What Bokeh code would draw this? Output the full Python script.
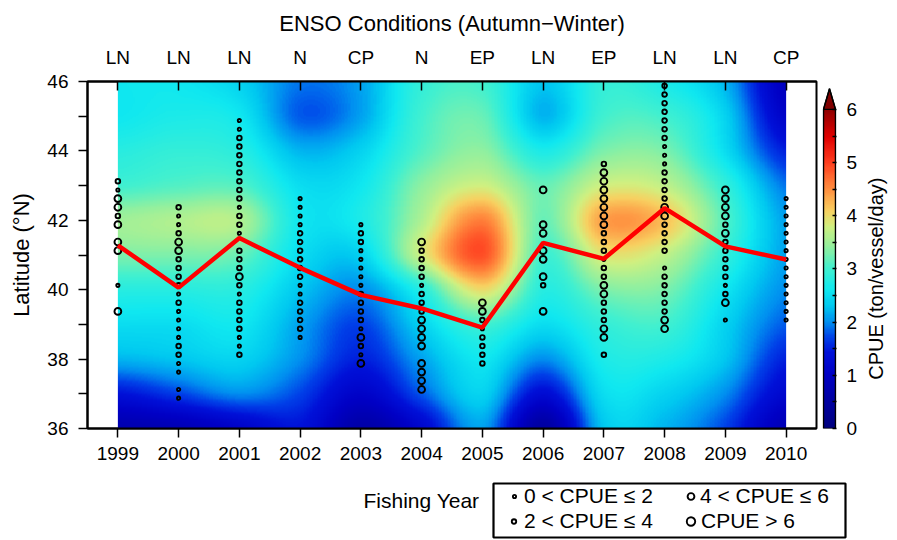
import numpy as np
from bokeh.plotting import figure
from bokeh.models import (Range1d, LinearAxis, FixedTicker, LinearColorMapper, Legend,
                          LegendItem, BoxAnnotation, ColumnDataSource)
from bokeh.layouts import row, column
from bokeh.embed import file_html
from bokeh.resources import INLINE
from bokeh.core.properties import value

# ---------------- data ----------------
years = [1999, 2000, 2001, 2002, 2003, 2004, 2005, 2006, 2007, 2008, 2009, 2010]
enso = ["LN", "LN", "LN", "N", "CP", "N", "EP", "LN", "EP", "LN", "LN", "CP"]
mean_lat = [41.28, 40.06, 41.49, 40.63, 39.85, 39.46, 38.91, 41.35, 40.89, 42.35, 41.25, 40.87]

# CPUE field (rows: latitude 36..46, cols: years 1999..2010)
grid_lats = [36, 37, 38, 39, 40, 41, 42, 43, 44, 45, 46]
cpue_grid = [
    [0.7, 0.8, 1.1, 1.4, 0.6, 1.2, 2.1, 0.5, 2.3, 2.2, 1.7, 0.8],
    [1.4, 1.7, 2.0, 1.7, 1.1, 1.8, 2.4, 1.3, 2.5, 2.4, 2.0, 1.2],
    [2.2, 2.3, 2.4, 2.0, 1.5, 2.1, 2.6, 2.0, 2.7, 2.7, 2.3, 1.5],
    [2.5, 2.5, 2.6, 2.1, 1.7, 2.4, 3.0, 2.5, 2.9, 3.0, 2.4, 1.8],
    [2.8, 2.8, 2.8, 2.3, 2.0, 2.8, 4.0, 2.8, 3.3, 3.3, 2.6, 2.0],
    [3.3, 3.3, 3.2, 2.5, 2.4, 3.8, 4.9, 3.0, 3.9, 3.7, 2.9, 2.1],
    [3.5, 3.6, 3.6, 2.6, 2.7, 3.6, 4.6, 3.2, 4.4, 4.2, 3.1, 2.1],
    [3.0, 3.1, 3.1, 2.5, 2.6, 3.4, 3.8, 3.2, 3.8, 3.7, 2.9, 1.9],
    [2.8, 2.9, 2.8, 2.2, 2.4, 3.1, 3.4, 2.7, 3.3, 3.3, 2.5, 1.5],
    [2.6, 2.7, 2.6, 1.8, 2.1, 3.0, 3.2, 2.2, 3.0, 3.0, 2.4, 1.1],
    [2.6, 2.6, 2.4, 1.9, 2.1, 2.9, 3.0, 2.3, 2.9, 2.7, 2.2, 0.9],
]

# fishing positions (latitude) and CPUE class (1: 0-2, 2: 2-4, 3: 4-6, 4: >6)
lat_1999 = [43.125, 42.875, 42.625, 42.375, 42.125, 41.875, 41.375, 41.125, 40.125, 39.375]
cls_1999 = [2, 1, 3, 3, 2, 3, 3, 3, 1, 3]
lat_2000 = [42.375, 42.125, 41.875, 41.625, 41.375, 41.125, 40.875, 40.625, 40.375, 40.125, 39.875,
            39.625, 39.375, 39.125, 38.875, 38.625, 38.375, 38.125, 37.875, 37.625, 37.125, 36.875]
cls_2000 = [2, 1, 1, 2, 3, 3, 2, 2, 2, 2, 1, 2, 1, 1, 1, 1, 2, 2, 1, 1, 1, 1]
lat_2001 = [44.875, 44.625, 44.375, 44.125, 43.875, 43.625, 43.375, 43.125, 42.875, 42.625, 42.375,
            42.125, 41.875, 41.625, 41.125, 40.875, 40.625, 40.375, 40.125, 39.875, 39.625, 39.375,
            39.125, 38.875, 38.625, 38.375, 38.125]
cls_2001 = [1, 1, 2, 2, 2, 2, 2, 2, 2, 2, 1, 2, 2, 1, 2, 2, 2, 3, 2, 1, 2, 2, 2, 2, 1, 1, 2]
lat_2002 = [42.625, 42.375, 42.125, 41.875, 41.625, 41.375, 41.125, 40.875, 40.625, 40.375, 40.125,
            39.875, 39.625, 39.375, 39.125, 38.875, 38.625]
cls_2002 = [1, 1, 1, 1, 2, 2, 2, 2, 2, 2, 1, 1, 2, 2, 2, 2, 1]
lat_2003 = [41.875, 41.625, 41.375, 41.125, 40.875, 40.625, 40.375, 40.125, 39.875, 39.625, 39.375,
            39.125, 38.875, 38.625, 38.375, 38.125, 37.875]
cls_2003 = [1, 2, 2, 1, 1, 1, 1, 1, 2, 2, 2, 2, 1, 3, 2, 1, 3]
lat_2004 = [41.375, 41.125, 40.875, 40.625, 40.375, 40.125, 39.875, 39.625, 39.375, 39.125, 38.875,
            38.625, 38.375, 37.875, 37.625, 37.375, 37.125]
cls_2004 = [3, 2, 2, 2, 2, 1, 2, 2, 2, 3, 3, 3, 3, 3, 3, 3, 3]
lat_2005 = [39.625, 39.375, 39.125, 38.875, 38.625, 38.375, 38.125, 37.875]
cls_2005 = [3, 3, 2, 1, 2, 2, 2, 2]
lat_2006 = [42.875, 41.875, 41.625, 41.125, 40.875, 40.375, 40.125, 39.375]
cls_2006 = [3, 3, 3, 3, 3, 3, 2, 3]
lat_2007 = [43.625, 43.375, 43.125, 42.875, 42.625, 42.375, 42.125, 41.875, 41.625, 41.375, 41.125,
            40.875, 40.625, 40.375, 40.125, 39.875, 39.625, 39.375, 39.125, 38.875, 38.625, 38.125]
cls_2007 = [2, 3, 3, 3, 3, 3, 3, 3, 2, 2, 2, 1, 2, 2, 3, 3, 2, 2, 2, 3, 3, 2]
lat_2008 = [45.875, 45.625, 45.375, 45.125, 44.875, 44.625, 44.375, 44.125, 43.875, 43.625, 43.375,
            43.125, 42.875, 42.625, 42.375, 42.125, 41.875, 41.625, 41.375, 41.125, 40.625, 40.375,
            40.125, 39.875, 39.625, 39.375, 39.125, 38.875]
cls_2008 = [2, 2, 2, 2, 2, 2, 2, 1, 1, 1, 2, 2, 2, 2, 3, 3, 2, 2, 2, 2, 1, 2, 2, 2, 2, 2, 3, 3]
lat_2009 = [42.875, 42.625, 42.375, 42.125, 41.875, 41.625, 41.375, 41.125, 40.875, 40.625, 40.375,
            40.125, 39.875, 39.625, 39.125]
cls_2009 = [3, 3, 3, 3, 2, 3, 2, 2, 2, 2, 2, 1, 2, 3, 1]
lat_2010 = [42.625, 42.375, 42.125, 41.875, 41.625, 41.375, 41.125, 40.875, 40.625, 40.375, 40.125,
            39.875, 39.625, 39.375, 39.125]
cls_2010 = [1, 1, 1, 1, 1, 1, 1, 1, 1, 1, 1, 1, 1, 1, 1]

class_labels = ["0 < CPUE \u2264 2", "2 < CPUE \u2264 4", "4 < CPUE \u2264 6", "CPUE > 6"]

# ---------------- styling ----------------
FONT = "Liberation Sans"
BLACK = "#000000"
class_size = {1: 3.2, 2: 4.6, 3: 6.8, 4: 8.4}
RING_W = 1.9

stops = [(0.0, "#000080"), (0.6, "#0000A8"), (1.0, "#0000C4"), (1.4, "#0010D8"), (1.7, "#0040E8"),
         (2.0, "#0090F0"), (2.3, "#00C8F0"), (2.6, "#10E8F0"), (3.0, "#40F0D0"), (3.4, "#90F0A0"),
         (3.8, "#D0F080"), (4.1, "#F8D060"), (4.5, "#FF9040"), (5.0, "#FF4020"), (5.5, "#E00000"),
         (6.0, "#900000")]
sv = np.array([s[0] for s in stops])
rgb = np.array([[int(c[1:3], 16), int(c[3:5], 16), int(c[5:7], 16)] for _, c in stops], float)
vv = np.linspace(0, 6, 256)
palette = ["#%02x%02x%02x" % tuple(int(round(np.interp(v, sv, rgb[:, k]))) for k in range(3)) for v in vv]
mapper = LinearColorMapper(palette=palette, low=0, high=6, high_color="#800000", low_color="#000080")


def cr_weights(n, m):
    u = np.linspace(0, n - 1, m)
    i = np.clip(np.floor(u).astype(int), 0, n - 2)
    f = u - i
    W = np.zeros((m, n))
    ws = [(-f**3 + 2 * f**2 - f) / 2, (3 * f**3 - 5 * f**2 + 2) / 2,
          (-3 * f**3 + 4 * f**2 + f) / 2, (f**3 - f**2) / 2]
    rows = np.arange(m)
    for k, w in zip(range(-1, 3), ws):
        np.add.at(W, (rows, np.clip(i + k, 0, n - 1)), w)
    return W


G = np.array(cpue_grid)
Wy = cr_weights(len(grid_lats), 401)
Wx = cr_weights(len(years), 441)
Z = np.clip(Wy @ G @ Wx.T, 0, 6)

# ---------------- main figure ----------------
p = figure(width=820, height=470, x_range=Range1d(1998.5, 2010.5), y_range=Range1d(36, 46),
           output_backend="svg", toolbar_location=None,
           min_border_left=87, min_border_right=4, min_border_top=80, min_border_bottom=42)
p.grid.visible = False
p.outline_line_color = BLACK
p.outline_line_width = 2
p.background_fill_color = "white"

p.title.text = "ENSO Conditions (Autumn\u2212Winter)"
p.title.align = "center"
p.title.text_font = FONT
p.title.text_font_size = "22px"
p.title.text_font_style = "normal"
p.title.text_color = BLACK
p.title.standoff = 16

p.image(image=[Z], x=years[0], y=grid_lats[0], dw=years[-1] - years[0],
        dh=grid_lats[-1] - grid_lats[0], color_mapper=mapper)

xs, ys, ss = [], [], []
for yr, la, cl in [(1999, lat_1999, cls_1999), (2000, lat_2000, cls_2000), (2001, lat_2001, cls_2001),
                   (2002, lat_2002, cls_2002), (2003, lat_2003, cls_2003), (2004, lat_2004, cls_2004),
                   (2005, lat_2005, cls_2005), (2006, lat_2006, cls_2006), (2007, lat_2007, cls_2007),
                   (2008, lat_2008, cls_2008), (2009, lat_2009, cls_2009), (2010, lat_2010, cls_2010)]:
    xs += [yr] * len(la)
    ys += la
    ss += [class_size[c] for c in cl]
src = ColumnDataSource(dict(x=xs, y=ys, s=ss))
p.scatter("x", "y", size="s", source=src, marker="circle", fill_color=None,
          line_color=BLACK, line_width=RING_W)

p.line(years, mean_lat, line_color="#FF0000", line_width=4.5)

for ax in (p.xaxis[0], p.yaxis[0]):
    ax.axis_line_width = 2
    ax.axis_line_color = BLACK
    ax.major_tick_line_color = BLACK
    ax.minor_tick_line_color = BLACK
    ax.major_tick_line_width = 1.5
    ax.minor_tick_line_width = 1.5
    ax.major_label_text_font = FONT
    ax.major_label_text_font_size = "19px"
    ax.major_label_text_color = BLACK
    ax.major_tick_in = 0
    ax.major_tick_out = 9

p.xaxis.ticker = FixedTicker(ticks=years)
p.xaxis.minor_tick_line_color = None
p.xaxis.major_label_standoff = 9

p.yaxis.ticker = FixedTicker(ticks=[36, 38, 40, 42, 44, 46], minor_ticks=[37, 39, 41, 43, 45])
p.yaxis.minor_tick_in = 0
p.yaxis.minor_tick_out = 9
p.yaxis.major_label_standoff = 10
p.yaxis.axis_label = "Latitude (\u00b0N)"
p.yaxis.axis_label_text_font = FONT
p.yaxis.axis_label_text_font_size = "22px"
p.yaxis.axis_label_text_font_style = "normal"
p.yaxis.axis_label_text_color = BLACK
p.yaxis.axis_label_standoff = 10

top = LinearAxis(ticker=FixedTicker(ticks=years),
                 major_label_overrides={y: e for y, e in zip(years, enso)})
top.axis_line_width = 2
top.axis_line_color = BLACK
top.major_tick_line_color = BLACK
top.major_tick_line_width = 1.5
top.major_tick_in = 9
top.major_tick_out = 0
top.minor_tick_line_color = None
top.major_label_text_font = FONT
top.major_label_text_font_size = "19px"
top.major_label_text_color = BLACK
top.major_label_standoff = 14
p.add_layout(top, "above")

# ---------------- colour bar ----------------
cb = figure(width=44, height=470, x_range=Range1d(-0.08, 1.08), y_range=Range1d(0, 6.525),
            output_backend="svg", toolbar_location=None, x_axis_location=None, y_axis_location="right",
            min_border_left=2, min_border_right=28, min_border_top=80, min_border_bottom=42)
cb.grid.visible = False
cb.outline_line_color = None
cb.image(image=[np.linspace(0, 6, 300).reshape(-1, 1)], x=0, y=0, dw=1, dh=6, color_mapper=mapper)
cb.patch([0, 1, 0.5], [6, 6, 6.39], fill_color="#800000", line_color=BLACK, line_width=1.2)
cb.patch([0, 1, 1, 0.5, 0], [0, 0, 6, 6.39, 6], fill_color=None, line_color=BLACK, line_width=1.5)
cay = cb.yaxis[0]
cay.ticker = FixedTicker(ticks=[0, 1, 2, 3, 4, 5, 6], minor_ticks=[0.5, 1.5, 2.5, 3.5, 4.5, 5.5])
cay.bounds = (0, 6)
cay.axis_line_color = None
cay.major_tick_line_color = BLACK
cay.minor_tick_line_color = BLACK
cay.major_tick_line_width = 1.5
cay.minor_tick_line_width = 1.5
cay.major_tick_in = 4
cay.major_tick_out = 0
cay.minor_tick_in = 4
cay.minor_tick_out = 0
cay.major_label_text_font = FONT
cay.major_label_text_font_size = "19px"
cay.major_label_text_color = BLACK
cay.major_label_standoff = 10

ttl = figure(width=33, height=470, x_range=Range1d(0, 33), y_range=Range1d(0, 470),
             output_backend="svg", toolbar_location=None, x_axis_location=None, y_axis_location=None,
             min_border=0)
ttl.grid.visible = False
ttl.outline_line_color = None
ttl.text(x=[11], y=[203], text=["CPUE (ton/vessel/day)"], angle=np.pi / 2, text_color=BLACK,
         text_font=value(FONT), text_font_size="20px", text_align="center", text_baseline="middle")

# ---------------- legend strip ----------------
lf = figure(width=897, height=70, x_range=Range1d(0, 897), y_range=Range1d(0, 70),
            output_backend="svg", toolbar_location=None, x_axis_location=None, y_axis_location=None,
            min_border=0)
lf.grid.visible = False
lf.outline_line_color = None
lf.text(x=[421], y=[40], text=["Fishing Year"], text_font=value(FONT), text_font_size="21px",
        text_color=BLACK, text_align="center", text_baseline="middle")

lf.add_layout(BoxAnnotation(left=493, right=845, bottom=3, top=57, fill_alpha=0,
                            line_color=BLACK, line_alpha=1.0, line_width=2.2))
leg_pos = [(514, 43), (514, 18), (690, 43), (690, 18)]
leg_text_x = [524, 524, 700, 700]
for k, lab in enumerate(class_labels):
    sz = class_size[k + 1]
    # legend sample glyph (its single point lies outside the visible strip)
    r = lf.scatter(x=[-100], y=[-100], marker="circle", size=sz, fill_color=None,
                   line_color=BLACK, line_width=RING_W)
    g = max(4, int(round(sz / 0.4)))
    cx, cy = leg_pos[k]
    x0 = int(round(cx - g / 2))
    lg = Legend(items=[LegendItem(label=lab, renderers=[r])],
                location=(x0, cy - 11), glyph_width=g, glyph_height=22,
                label_height=22, label_standoff=int(max(0, leg_text_x[k] - x0 - g)),
                padding=0, margin=0, spacing=0, border_line_color=None,
                background_fill_alpha=0, label_text_font=FONT, label_text_font_size="21px",
                label_text_color=BLACK)
    lf.add_layout(lg)

layout = column(row(p, cb, ttl), lf)
open("out.html", "w").write(file_html(layout, INLINE))
